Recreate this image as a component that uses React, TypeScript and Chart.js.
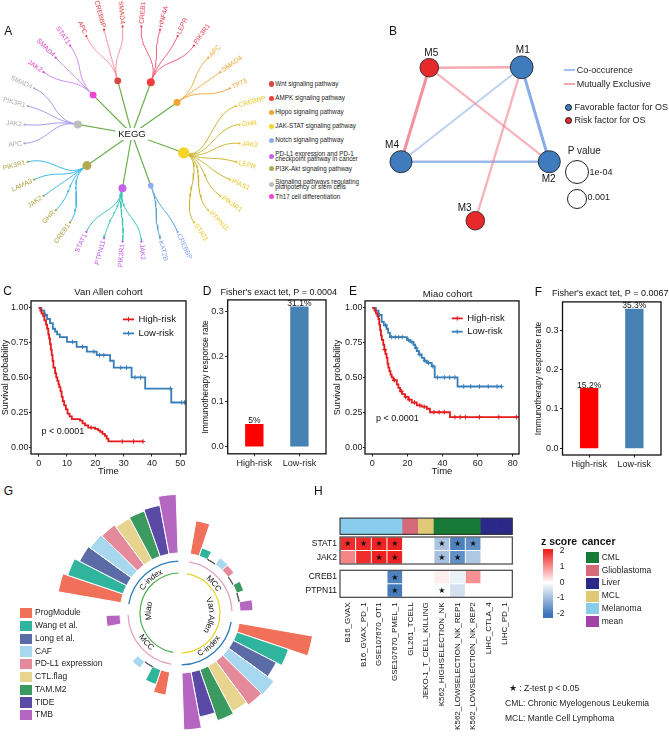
import React, { useEffect, useRef } from 'react';
import { Chart, registerables } from 'chart.js';

Chart.register(...registerables);

const FONT = 'Arial, "Liberation Sans", Helvetica, sans-serif';
Chart.defaults.font.family = FONT;
Chart.defaults.color = '#111';

/* ============================ DATA ============================ */

// ---- A: KEGG pathways and member genes
const TREE_ROOT = 'KEGG';
const PATHWAYS = [
  'Wnt signaling pathway',
  'AMPK signaling pathway',
  'Hippo signaling pathway',
  'JAK-STAT signaling pathway',
  'Notch signaling pathway',
  'PD-L1 expression and PD-1\ncheckpoint pathway in cancer',
  'PI3K-Akt signaling pathway',
  'Signaling pathways regulating\npluripotency of stem cells',
  'Th17 cell differentiation',
];
const WNT_GENES = ['APC', 'CREBBP', 'SMAD4'];
const AMPK_GENES = ['CREB1', 'HNF4A', 'LEPR', 'PIK3R1'];
const HIPPO_GENES = ['APC', 'SMAD4', 'TP73'];
const JAKSTAT_GENES = ['CREBBP', 'GHR', 'JAK2', 'LEPR', 'PIAS1', 'PIK3R1', 'PTPN11', 'STAT1'];
const NOTCH_GENES = ['CREBBP', 'KAT2B'];
const PDL1_GENES = ['JAK2', 'PIK3R1', 'PTPN11', 'STAT1'];
const PI3K_GENES = ['CREB1', 'GHR', 'JAK2', 'LAMA3', 'PIK3R1'];
const STEM_GENES = ['APC', 'JAK2', 'PIK3R1', 'SMAD4'];
const TH17_GENES = ['JAK2', 'SMAD4', 'STAT1'];
const PATHWAY_GENES = [WNT_GENES, AMPK_GENES, HIPPO_GENES, JAKSTAT_GENES, NOTCH_GENES, PDL1_GENES, PI3K_GENES, STEM_GENES, TH17_GENES];

// ---- B: module network
const MODULES = ['M1', 'M2', 'M3', 'M4', 'M5'];
const ROLES = ['Favorable factor for OS', 'Risk factor for OS'];
const MODULE_ROLE = [0, 0, 1, 0, 1];
const MODULE_P = [2e-4, 3e-4, 2.2e-3, 3e-4, 2.2e-3];
const EDGE_TYPES = ['Co-occurence', 'Mutually Exclusive'];
const EDGE_FROM = ['M5', 'M5', 'M5', 'M1', 'M1', 'M1', 'M4'];
const EDGE_TO = ['M1', 'M4', 'M2', 'M3', 'M4', 'M2', 'M2'];
const EDGE_TYPE = [1, 1, 1, 1, 0, 0, 0];
const EDGE_STRENGTH = [2.5, 3, 2.3, 2.3, 2, 3, 2.6];
const P_LEGEND = [1e-4, 0.001];
const P_LEGEND_LABELS = ['1e-04', '0.001'];
// network layout (layout units)
const NET_X = [141.7, 169.3, 95.3, 21, 49.3];
const NET_Y = [27.3, 121.7, 180.7, 121.7, 27.7];
const NET_LABEL_DX = [1.1, -0.6, -10.6, -9, 2];
const NET_LABEL_DY = [-17, 18, -12.9, -16.4, -14];

// ---- C / E: Kaplan-Meier curves [time, survival]
const KM_GROUPS = ['High-risk', 'Low-risk'];
const P_TEXT = 'p < 0.0001';
const VA_HIGH = [[0, 1], [0.6, 0.98], [1.0, 0.96], [1.6, 0.94], [2.0, 0.91], [2.6, 0.88], [3.0, 0.85], [3.4, 0.81], [3.7, 0.78], [4.0, 0.74], [4.3, 0.7], [4.6, 0.66], [4.9, 0.62], [5.2, 0.57], [5.8, 0.53], [6.2, 0.5], [6.6, 0.475], [7.0, 0.45], [7.3, 0.43], [7.7, 0.4], [8.1, 0.36], [8.5, 0.33], [9.0, 0.3], [9.6, 0.27], [10.2, 0.24], [10.9, 0.22], [11.7, 0.2], [14.6, 0.19], [15.5, 0.17], [16.4, 0.155], [17.5, 0.14], [19.9, 0.13], [21.0, 0.12], [21.7, 0.11], [22.5, 0.095], [23.4, 0.08], [24.0, 0.06], [24.6, 0.04], [37, 0.04]];
const VA_LOW = [[0, 1], [1, 0.98], [2, 0.95], [3, 0.92], [4, 0.89], [5, 0.85], [5.8, 0.83], [6.5, 0.81], [7.5, 0.79], [10, 0.755], [13.4, 0.72], [17, 0.685], [20.5, 0.66], [25.2, 0.62], [26.5, 0.57], [32.8, 0.5], [37.6, 0.42], [46.8, 0.32], [52, 0.32]];
const VA_HIGH_CENSOR = [18.5, 29.5, 33.5, 36.8];
const VA_LOW_CENSOR = [2.5, 12, 15.5, 19.5, 21.5, 23, 29, 31, 34, 36, 46.5, 50.5, 51.5];
const MIAO_HIGH = [[0, 1], [1.2, 0.98], [2, 0.96], [2.8, 0.94], [3.4, 0.92], [3.9, 0.88], [4.4, 0.84], [4.9, 0.8], [5.4, 0.77], [6.2, 0.735], [6.8, 0.7], [7.4, 0.67], [8.1, 0.64], [8.6, 0.6], [9.1, 0.57], [9.7, 0.545], [10.3, 0.52], [11, 0.5], [12, 0.48], [13.9, 0.45], [14.8, 0.425], [15.8, 0.4], [17, 0.38], [18.6, 0.36], [20.5, 0.34], [22.4, 0.32], [25.3, 0.3], [28, 0.29], [31, 0.275], [32.8, 0.25], [44.2, 0.215], [83.5, 0.215]];
const MIAO_LOW = [[0, 1], [2, 0.98], [3.5, 0.95], [5.3, 0.9], [6.5, 0.875], [8.1, 0.85], [9, 0.82], [10, 0.79], [19.7, 0.77], [21.5, 0.755], [23.4, 0.735], [24.4, 0.71], [25.3, 0.69], [26.5, 0.665], [28.1, 0.64], [29.5, 0.62], [31, 0.605], [33.8, 0.58], [35.5, 0.5], [48.5, 0.435], [74, 0.435]];
const MIAO_HIGH_CENSOR = [7, 12.5, 16.5, 19, 21, 24, 27, 29.5, 35, 38, 41, 47, 50, 53, 61, 72, 82];
const MIAO_LOW_CENSOR = [4, 7.5, 11, 13, 15, 17, 20.5, 22.5, 25, 27, 30, 32, 34.5, 37, 41, 44, 47, 52, 56, 61, 66, 71, 73.5];
const KM_YTICKS = [0, 0.25, 0.5, 0.75, 1];
const VA_XTICKS = [0, 10, 20, 30, 40, 50];
const MIAO_XTICKS = [0, 20, 40, 60, 80];

// ---- D / F: immunotherapy response
const RESPONSE_GROUPS = ['High-risk', 'Low-risk'];
const VA_RESPONSE = [0.05, 0.311];
const MIAO_RESPONSE = [0.152, 0.353];
const FISHER_P = ['0.0004', '0.0067'];
const RESP_YTICKS = [0, 0.1, 0.2, 0.3];

// ---- G: circular bar chart
const METHODS = ['ProgModule', 'Wang et al.', 'Long et al.', 'CAF', 'PD-L1 expression', 'CTL.flag', 'TAM.M2', 'TIDE', 'TMB'];
const MIAO_CINDEX = [0.635, 0.585, 0.53, 0.51, 0.497, 0.472, 0.48, 0.495, 0.586];
const VANALLEN_MCC = [0.336, 0.087, 0.004, 0.082, 0.073, 0.004, 0.075, 0.004, 0.13];
const VANALLEN_CINDEX = [0.745, 0.544, 0.483, 0.561, 0.546, 0.515, 0.54, 0.457, 0.57];
const MIAO_MCC = [0.233, 0.154, 0.004, 0.08, 0, 0, 0, 0, 0.14];
const G_METRICS = ['C-index', 'MCC', 'C-index', 'MCC'];
const G_COHORTS = ['Miao', 'Van Allen', 'Van Allen', 'Miao'];

// ---- H: heatmap
const H_COLS = ['B16_GVAX', 'B16_GVAX_PD_1', 'GSE107670_OT1', 'GSE107670_PMEL_1', 'GL261_TCELL', 'JEKO-1_T_CELL_KILLING', 'K562_HIGHSELECTION_NK', 'K562_LOWSELECTION_NK_REP1', 'K562_LOWSELECTION_NK_REP2', 'LIHC_CTLA_4', 'LIHC_PD_1'];
const H_COL_CANCER = ['Melanoma', 'Melanoma', 'Melanoma', 'Melanoma', 'Glioblastoma', 'MCL', 'CML', 'CML', 'CML', 'Liver', 'Liver'];
const H_GENES = ['STAT1', 'JAK2', 'CREB1', 'PTPN11'];
const Z_STAT1 = [1.9, 1.95, 2.0, 2.0, null, null, -0.85, -1.8, -1.6, null, null];
const Z_JAK2 = [1.1, 1.9, 2.0, 2.0, null, null, -0.9, -1.6, -0.8, null, null];
const Z_CREB1 = [null, null, null, -1.8, null, null, 0.15, -0.2, 1.0, null, null];
const Z_PTPN11 = [null, null, null, -1.9, null, null, -0.05, -0.45, null, null, null];
const SIG_STAT1 = [1, 1, 1, 1, 0, 0, 1, 1, 1, 0, 0];
const SIG_JAK2 = [0, 0, 1, 1, 0, 0, 1, 1, 0, 0, 0];
const SIG_CREB1 = [0, 0, 0, 1, 0, 0, 0, 0, 0, 0, 0];
const SIG_PTPN11 = [0, 0, 0, 1, 0, 0, 1, 0, 0, 0, 0];
const MEAN_LABEL = 'mean';
const MEAN_Z = [1.75, 0.6, -0.45, -0.75];
const CANCER_TYPES = ['CML', 'Glioblastoma', 'Liver', 'MCL', 'Melanoma', 'mean'];
const Z_TICKS = [2, 1, 0, -1, -2];
const FOOTNOTES = ['★ : Z-test p < 0.05', 'CML: Chronic Myelogenous Leukemia', 'MCL: Mantle Cell Lymphoma'];

/* ============================ STYLE ============================ */
const A_NODE_COLORS = ['#d64848', '#f03c3c', '#f0a432', '#f7d428', '#8eacf0', '#c364ee', '#b0aa52', '#bdbdbd', '#ef46d3'];
const A_EDGE_COLORS = ['#f3959e', '#f0607a', '#f2ac48', '#cbb437', '#55a4d6', '#3ec4b6', '#3ab7e6', '#a897ef', '#c98def'];
const A_TEXT_COLORS = ['#e03c3c', '#ee3b57', '#f0a232', '#ebc41e', '#7e9eee', '#c455e6', '#aaa340', '#ababab', '#e33ccb'];
const ROLE_COLORS = ['#3f7bbd', '#e8292b'];
const KM_COLORS = ['#e41a1c', '#377eb8'];
const BAR_COLORS = ['#ff0000', '#4682b4'];
const METHOD_COLORS = ['#f0705a', '#2fb59e', '#5b6ba6', '#a7d8ef', '#e48a9b', '#e7d48f', '#3b9a5f', '#5a49a5', '#b566c0'];
const METRIC_COLORS: any = { 'C-index': '#2b7bba', MCC: '#e5a0c0' };
const COHORT_COLORS: any = { Miao: '#4cae4c', 'Van Allen': '#e6d62a' };
const CANCER_COLORS = ['#177a36', '#d56b79', '#2a2989', '#dfc977', '#89ccec', '#a144a6'];

const zColor = (z: number | null) => {
  if (z === null || z === undefined) return '#ffffff';
  const t = Math.max(-2, Math.min(2, z)) / 2;
  const c = t >= 0 ? [238, 34, 34] : [58, 116, 184];
  const a = Math.abs(t);
  return `rgb(${[255, 255, 255].map((v, i) => Math.round(v + (c[i] - v) * a)).join(',')})`;
};

/* ============================ HELPERS ============================ */
type Box = { l: number; t: number; w: number; h: number };

function frame(area: any, yw: number, xh: number, m: any) {
  const l = Math.floor(area.l - yw - m.l);
  const t = Math.floor(area.t - m.t);
  const w = Math.ceil(area.r + m.r - l);
  const h = Math.ceil(area.b + xh + m.b - t);
  return { box: { l, t, w, h }, pad: { left: area.l - yw - l, top: area.t - t, right: l + w - area.r, bottom: t + h - area.b - xh } };
}

function baseOptions(pad: any) {
  return {
    responsive: false,
    animation: false,
    events: [],
    layout: { autoPadding: false, padding: pad },
    plugins: { legend: { display: false }, tooltip: { enabled: false } },
  };
}

function ChartBox({ box, make }: { box: Box; make: () => any }) {
  const ref = useRef<HTMLCanvasElement>(null);
  useEffect(() => {
    if (!ref.current) return;
    const chart = new Chart(ref.current, make());
    return () => chart.destroy();
  }, []);
  return <canvas ref={ref} width={box.w} height={box.h} style={{ position: 'absolute', left: box.l, top: box.t, width: box.w, height: box.h }} />;
}

function Txt(p: { x: number; y: number; s: number; t: any; a?: string; c?: string; b?: boolean; lh?: number }) {
  const tx = p.a === 'middle' ? '-50%' : p.a === 'end' ? '-100%' : '0';
  return (
    <div style={{ position: 'absolute', left: p.x, top: p.y, transform: `translate(${tx}, -50%)`, fontSize: p.s, lineHeight: p.lh ? `${p.lh}px` : 1.15, whiteSpace: 'pre', color: p.c || '#111', fontWeight: p.b ? 'bold' : 'normal', fontFamily: FONT }}>
      {p.t}
    </div>
  );
}

const boxPlugin = {
  id: 'panelBox',
  afterDatasetsDraw(chart: any) {
    const { ctx, chartArea: a } = chart;
    ctx.save();
    ctx.strokeStyle = '#111';
    ctx.lineWidth = 1.3;
    ctx.strokeRect(a.left, a.top, a.right - a.left, a.bottom - a.top);
    ctx.restore();
  },
};

/* ============================ A: KEGG tree ============================ */
const A_BOX: Box = { l: 0, t: 0, w: 268, h: 270 };
const LEAF_START = 115, LEAF_STEP = 10, R_PATH = 55, R_LEAF = 108;
const polar = (r: number, deg: number) => ({ x: r * Math.cos((deg * Math.PI) / 180), y: r * Math.sin((deg * Math.PI) / 180) });

function treeConfig() {
  let k = 0;
  const nodes = PATHWAYS.map((name, i) => {
    const leaves = PATHWAY_GENES[i].map((g) => ({ g, a: LEAF_START - LEAF_STEP * k++ }));
    const a = leaves.reduce((s, l) => s + l.a, 0) / leaves.length;
    return { name, i, a, leaves };
  });
  const datasets: any[] = [];
  datasets.push({ data: nodes.map((n) => polar(R_PATH, n.a)), pointRadius: nodes.map((n) => 2 * Math.sqrt(n.leaves.length)), pointBackgroundColor: nodes.map((n) => A_NODE_COLORS[n.i]), pointBorderWidth: 0, order: 0 });
  const leafPts: any[] = [];
  const leafCols: string[] = [];
  nodes.forEach((n) => n.leaves.forEach((l) => { leafPts.push(polar(R_LEAF, l.a)); leafCols.push(A_TEXT_COLORS[n.i]); }));
  datasets.push({ data: leafPts, pointRadius: 1.1, pointBackgroundColor: leafCols, pointBorderWidth: 0, order: 1 });
  nodes.forEach((n) => datasets.push({ data: [{ x: 0, y: 0 }, polar(R_PATH, n.a)], showLine: true, borderColor: '#6ab04c', borderWidth: 1.2, pointRadius: 0, order: 3 }));
  const rm = (R_PATH + R_LEAF) / 2;
  nodes.forEach((n) => n.leaves.forEach((l) => {
    const P = [polar(R_PATH, n.a), polar(rm, n.a), polar(rm, l.a), polar(R_LEAF, l.a)];
    const pts: any[] = [];
    for (let s = 0; s <= 24; s++) {
      const t = s / 24, u = 1 - t;
      const b = [u * u * u, 3 * u * u * t, 3 * u * t * t, t * t * t];
      pts.push({ x: b.reduce((acc, w, j) => acc + w * P[j].x, 0), y: b.reduce((acc, w, j) => acc + w * P[j].y, 0) });
    }
    datasets.push({ data: pts, showLine: true, borderColor: A_EDGE_COLORS[n.i], borderWidth: 1, pointRadius: 0, order: 2 });
  }));
  const labels = {
    id: 'treeLabels',
    afterDatasetsDraw(chart: any) {
      const { ctx, scales: { x, y } } = chart;
      ctx.save();
      ctx.font = `6.7px ${FONT}`;
      ctx.textBaseline = 'middle';
      nodes.forEach((n) => n.leaves.forEach((l) => {
        const p = polar(R_LEAF + 2.5, l.a);
        const a = ((l.a % 360) + 360) % 360;
        ctx.save();
        ctx.translate(x.getPixelForValue(p.x), y.getPixelForValue(p.y));
        if (a < 90 || a > 270) { ctx.rotate((-a * Math.PI) / 180); ctx.textAlign = 'left'; }
        else { ctx.rotate(((180 - a) * Math.PI) / 180); ctx.textAlign = 'right'; }
        ctx.fillStyle = A_TEXT_COLORS[n.i];
        ctx.fillText(l.g, 0, 0);
        ctx.restore();
      }));
      const cx = x.getPixelForValue(0), cy = y.getPixelForValue(0);
      ctx.font = `9.5px ${FONT}`;
      const w = ctx.measureText(TREE_ROOT).width;
      ctx.fillStyle = '#fff';
      ctx.fillRect(cx - w / 2 - 3, cy - 6, w + 6, 12);
      ctx.fillStyle = '#111';
      ctx.textAlign = 'center';
      ctx.fillText(TREE_ROOT, cx, cy);
      ctx.restore();
    },
  };
  return {
    type: 'scatter',
    data: { datasets },
    options: { ...baseOptions(0), scales: { x: { type: 'linear', min: -132, max: 136, display: false }, y: { type: 'linear', min: -136, max: 134, display: false } } },
    plugins: [labels],
  };
}

/* ============================ B: network ============================ */
const B_BOX: Box = { l: 380, t: 40, w: 185, h: 200 };
const pRadius = (p: number) => 10 + 2 * (-Math.log10(p) - 3);

function netConfig() {
  const idx = (m: string) => MODULES.indexOf(m);
  const datasets: any[] = [];
  datasets.push({ data: MODULES.map((_, i) => ({ x: NET_X[i], y: NET_Y[i] })), pointRadius: MODULE_P.map(pRadius), pointBackgroundColor: MODULE_ROLE.map((r) => ROLE_COLORS[r]), pointBorderColor: '#1a1a1a', pointBorderWidth: 0.8, order: 0 });
  EDGE_FROM.forEach((f, e) => {
    const a = idx(f), b = idx(EDGE_TO[e]);
    const alpha = 0.45 + (EDGE_STRENGTH[e] - 2) * 0.35;
    datasets.push({ data: [{ x: NET_X[a], y: NET_Y[a] }, { x: NET_X[b], y: NET_Y[b] }], showLine: true, pointRadius: 0, borderWidth: EDGE_STRENGTH[e], borderColor: EDGE_TYPE[e] === 0 ? `rgba(108,150,226,${alpha})` : `rgba(240,118,132,${alpha})`, order: 1 });
  });
  const labels = {
    id: 'netLabels',
    afterDatasetsDraw(chart: any) {
      const { ctx, scales: { x, y } } = chart;
      ctx.save();
      ctx.font = `10px ${FONT}`;
      ctx.textAlign = 'center';
      ctx.textBaseline = 'middle';
      ctx.fillStyle = '#111';
      MODULES.forEach((m, i) => ctx.fillText(m, x.getPixelForValue(NET_X[i]) + NET_LABEL_DX[i], y.getPixelForValue(NET_Y[i]) + NET_LABEL_DY[i]));
      ctx.restore();
    },
  };
  return {
    type: 'scatter',
    data: { datasets },
    options: { ...baseOptions(0), scales: { x: { type: 'linear', min: 0, max: 185, display: false }, y: { type: 'linear', min: 0, max: 200, reverse: true, display: false } } },
    plugins: [labels],
  };
}

/* ============================ C / E: KM ============================ */
const survAt = (curve: number[][], t: number) => { let v = curve[0][1]; for (const [tt, s] of curve) if (tt <= t) v = s; return v; };

const tickGrid = { display: true, offset: false, drawOnChartArea: false, drawTicks: true, tickLength: 2.5, tickColor: '#222', tickWidth: 1 };

function kmConfig(o: any) {
  const datasets: any[] = [];
  [o.high, o.low].forEach((s: number[][], k: number) => {
    datasets.push({ type: 'line', data: s.map(([t, v]) => ({ x: t, y: v })), stepped: true, borderColor: KM_COLORS[k], borderWidth: 1.8, pointRadius: 0, fill: false, order: 1 });
    const cens = k === 0 ? o.highC : o.lowC;
    datasets.push({ type: 'scatter', data: cens.map((t: number) => ({ x: t, y: survAt(s, t) })), pointStyle: 'cross', pointRadius: 2.3, pointBorderColor: KM_COLORS[k], pointBorderWidth: 1, order: 1 });
  });
  const extra = {
    id: 'kmExtra',
    afterDatasetsDraw(chart: any) {
      const { ctx, chartArea: a, scales: { x, y } } = chart;
      ctx.save();
      ctx.font = `9.5px ${FONT}`;
      ctx.textBaseline = 'middle';
      ctx.textAlign = 'left';
      KM_GROUPS.forEach((g, k) => {
        const x0 = a.left + o.leg[0], y0 = a.top + o.leg[1] + k * o.leg[2];
        ctx.strokeStyle = KM_COLORS[k];
        ctx.lineWidth = 1.8;
        ctx.beginPath(); ctx.moveTo(x0, y0); ctx.lineTo(x0 + 11, y0); ctx.stroke();
        ctx.lineWidth = 1;
        ctx.beginPath(); ctx.moveTo(x0 + 5.5, y0 - 2.3); ctx.lineTo(x0 + 5.5, y0 + 2.3); ctx.stroke();
        ctx.fillStyle = '#111';
        ctx.fillText(g, x0 + 15.5, y0);
      });
      ctx.font = `9px ${FONT}`;
      ctx.fillText(P_TEXT, x.getPixelForValue(o.pval[0]), y.getPixelForValue(o.pval[1]));
      ctx.restore();
    },
  };
  return {
    type: 'line',
    data: { datasets },
    options: {
      ...baseOptions(o.pad),
      scales: {
        x: {
          type: 'linear', min: o.xmin, max: o.xmax, offset: false,
          afterBuildTicks: (ax: any) => { ax.ticks = o.xticks.map((v: number) => ({ value: v })); },
          afterFit: (ax: any) => { ax.height = o.xh; },
          grid: tickGrid, border: { display: false },
          ticks: { font: { size: 9 }, color: '#222', padding: 1.5, maxRotation: 0, autoSkip: false },
          title: { display: true, text: 'Time', font: { size: 9.5 }, color: '#111', padding: 0 },
        },
        y: {
          type: 'linear', min: -0.05, max: 1.05,
          afterBuildTicks: (ax: any) => { ax.ticks = KM_YTICKS.map((v) => ({ value: v })); },
          afterFit: (ax: any) => { ax.width = o.yw; },
          grid: { ...tickGrid, tickLength: 2 }, border: { display: false },
          ticks: { font: { size: 9 }, color: '#222', padding: 0.5, autoSkip: false, callback: (v: any) => Number(v).toFixed(2) },
          title: { display: true, text: 'Survival probability', font: { size: 9 }, color: '#111', padding: 0 },
        },
      },
    },
    plugins: [boxPlugin, extra],
  };
}

const C_GEO = frame({ l: 31, t: 299.2, r: 186, b: 454 }, 31, 23.4, { l: 0, t: 4, r: 6, b: 1 });
const E_GEO = frame({ l: 365, t: 299.2, r: 519, b: 454 }, 32.4, 23.4, { l: 0, t: 4, r: 6, b: 1 });

/* ============================ D / F: bars ============================ */
function barConfig(o: any) {
  const labelPlugin = {
    id: 'barLabels',
    afterDatasetsDraw(chart: any) {
      const { ctx } = chart;
      ctx.save();
      ctx.font = `8.5px ${FONT}`;
      ctx.textAlign = 'center';
      ctx.textBaseline = 'bottom';
      ctx.fillStyle = '#111';
      chart.getDatasetMeta(0).data.forEach((el: any, i: number) => ctx.fillText(`${+(o.values[i] * 100).toFixed(1)}%`, el.x, el.y + 1));
      ctx.restore();
    },
  };
  return {
    type: 'bar',
    data: { datasets: [{ data: o.values.map((v: number, i: number) => ({ x: i + 1, y: v })), backgroundColor: BAR_COLORS, barThickness: 17.7, borderWidth: 0 }] },
    options: {
      ...baseOptions(o.pad),
      scales: {
        x: {
          type: 'linear', min: 1 - 0.59, max: RESPONSE_GROUPS.length + 0.59, offset: false,
          afterBuildTicks: (ax: any) => { ax.ticks = RESPONSE_GROUPS.map((_, i) => ({ value: i + 1 })); },
          afterFit: (ax: any) => { ax.height = o.xh; },
          grid: tickGrid, border: { display: false },
          ticks: { font: { size: 9 }, color: '#222', padding: 1.5, maxRotation: 0, autoSkip: false, callback: (v: any) => RESPONSE_GROUPS[Math.round(v) - 1] },
        },
        y: {
          type: 'linear', min: o.ymin, max: o.ymax,
          afterBuildTicks: (ax: any) => { ax.ticks = RESP_YTICKS.map((v) => ({ value: v })); },
          afterFit: (ax: any) => { ax.width = o.yw; },
          grid: tickGrid, border: { display: false },
          ticks: { font: { size: 9 }, color: '#222', padding: 1.5, autoSkip: false, callback: (v: any) => Number(v).toFixed(1) },
          title: { display: true, text: 'Immunotherapy response rate', font: { size: 8.5 }, color: '#111', padding: 0 },
        },
      },
    },
    plugins: [boxPlugin, labelPlugin],
  };
}

const D_GEO = frame({ l: 227.7, t: 297.8, r: 326, b: 453.8 }, 27.1, 22, { l: 0, t: 4, r: 4, b: 1 });
const F_GEO = frame({ l: 562.5, t: 299, r: 661, b: 455 }, 28.6, 22, { l: 0, t: 4, r: 4, b: 1 });

/* ============================ G: circular bars ============================ */
const G_BOX: Box = { l: 45, t: 478, w: 270, h: 270 };
const G_BAR_ANGLE = 8.7, G_GAP_ANGLE = 11.7, G_FIRST_CENTER = 165.8;
const G_START = 90 - G_FIRST_CENTER - G_BAR_ANGLE / 2;
const G_MIN = -0.6, G_MAX = 0.75;

function arcText(ctx: any, text: string, cx: number, cy: number, r: number, midDeg: number) {
  const mid = (midDeg * Math.PI) / 180;
  const outward = Math.sin(mid) < 0.3;
  const dir = outward ? 1 : -1;
  const total = ctx.measureText(text).width;
  let ang = mid - (dir * total) / (2 * r);
  for (const ch of text) {
    const w = ctx.measureText(ch).width;
    const a = ang + (dir * w) / (2 * r);
    ctx.save();
    ctx.translate(cx + r * Math.cos(a), cy + r * Math.sin(a));
    ctx.rotate(outward ? a + Math.PI / 2 : a - Math.PI / 2);
    ctx.fillText(ch, 0, 0);
    ctx.restore();
    ang += (dir * w) / r;
  }
}

function polarConfig() {
  const groups = [MIAO_CINDEX, VANALLEN_MCC, VANALLEN_CINDEX, MIAO_MCC];
  const vals: number[] = [], cols: string[] = [], borders: string[] = [], angs: number[] = [];
  groups.forEach((g) => {
    g.forEach((v, i) => { vals.push(v); cols.push(METHOD_COLORS[i]); borders.push(v > 0 && v < 0.01 ? '#555' : '#ffffff'); angs.push(G_BAR_ANGLE); });
    vals.push(G_MIN); cols.push('rgba(0,0,0,0)'); borders.push('rgba(0,0,0,0)'); angs.push(G_GAP_ANGLE);
  });
  const groupSpan = 9 * G_BAR_ANGLE + G_GAP_ANGLE;
  const gs = (g: number) => G_START - 90 + g * groupSpan;
  const ge = (g: number) => gs(g) + 9 * G_BAR_ANGLE;
  const hole = {
    id: 'hole',
    beforeDatasetsDraw(chart: any) {
      const inner = chart.scales.r.getDistanceFromCenterForValue(0);
      chart.getDatasetMeta(0).data.forEach((arc: any) => { arc.innerRadius = Math.min(inner, arc.outerRadius); });
    },
  };
  const rings = {
    id: 'rings',
    afterDatasetsDraw(chart: any) {
      const { ctx } = chart;
      const sc = chart.scales.r;
      const cx = sc.xCenter, cy = sc.yCenter;
      const rad = (d: number) => (d * Math.PI) / 180;
      ctx.save();
      ctx.textAlign = 'center';
      ctx.textBaseline = 'middle';
      ctx.fillStyle = '#111';
      G_METRICS.forEach((m, g) => {
        ctx.strokeStyle = METRIC_COLORS[m];
        ctx.lineWidth = 1.3;
        ctx.beginPath(); ctx.arc(cx, cy, 52, rad(gs(g)), rad(ge(g))); ctx.stroke();
        ctx.font = `8px ${FONT}`;
        arcText(ctx, m, cx, cy, 45, (gs(g) + ge(g)) / 2);
      });
      const spans: any[] = [];
      G_COHORTS.forEach((c, g) => {
        const last = spans[spans.length - 1];
        if (last && last.c === c) last.e = ge(g); else spans.push({ c, s: gs(g), e: ge(g) });
      });
      if (spans.length > 1 && spans[0].c === spans[spans.length - 1].c) { const f = spans.shift(); spans[spans.length - 1].e = f.e + 360; }
      spans.forEach((sp) => {
        ctx.strokeStyle = COHORT_COLORS[sp.c];
        ctx.lineWidth = 1.2;
        ctx.beginPath(); ctx.arc(cx, cy, 40, rad(sp.s), rad(sp.e)); ctx.stroke();
        ctx.font = `8.5px ${FONT}`;
        arcText(ctx, sp.c, cx, cy, 31.5, (sp.s + sp.e) / 2);
      });
      ctx.restore();
    },
  };
  return {
    type: 'polarArea',
    data: { labels: vals.map((_, i) => String(i)), datasets: [{ data: vals, backgroundColor: cols, borderColor: borders, borderWidth: 1, angle: (c: any) => angs[c.dataIndex] }] },
    options: { ...baseOptions(0), scales: { r: { min: G_MIN, max: G_MAX, startAngle: G_START, display: false } } },
    plugins: [hole, rings],
  };
}

/* ============================ H: heatmap ============================ */
const H_ANNO_H = 16.6, H_GAP1 = 2.7, H_ROW_H = 13.8, H_GAP2 = 6.4;
const rowTop = (g: number) => H_ANNO_H + H_GAP1 + g * H_ROW_H + (g >= 2 ? H_GAP2 : 0);
const H_YMAX = rowTop(3) + H_ROW_H;
const H_BLOCKS = [[0, H_ANNO_H], [rowTop(0), rowTop(1) + H_ROW_H], [rowTop(2), rowTop(3) + H_ROW_H]];
const H_MAIN_GEO = frame({ l: 340, t: 516.7, r: 512.3, b: 597.3 }, 50, 140, { l: 0, t: 6, r: 12, b: 0 });
const H_MEAN_GEO = frame({ l: 516.7, t: 516.7, r: 531.7, b: 597.3 }, 0, 140, { l: 4, t: 6, r: 12, b: 0 });

function heatConfig(cols: string[], annoColors: string[], zRows: any[][], sigRows: number[][], showY: boolean, pad: any) {
  const cell = { grouped: false, barPercentage: 1, categoryPercentage: 1, borderSkipped: false };
  const datasets: any[] = [{ ...cell, data: cols.map(() => [0, H_ANNO_H]), backgroundColor: annoColors, borderWidth: 0 }];
  zRows.forEach((zs, g) => datasets.push({ ...cell, data: cols.map(() => [rowTop(g), rowTop(g) + H_ROW_H]), backgroundColor: zs.map(zColor), borderWidth: 0.8, borderColor: '#ffffff' }));
  const deco = {
    id: 'heatDeco',
    afterDatasetsDraw(chart: any) {
      const { ctx, chartArea: a, scales: { x, y } } = chart;
      ctx.save();
      ctx.strokeStyle = '#333';
      ctx.lineWidth = 1.1;
      H_BLOCKS.forEach(([t, b]) => { const y0 = y.getPixelForValue(t), y1 = y.getPixelForValue(b); ctx.strokeRect(a.left, y0, a.right - a.left, y1 - y0); });
      ctx.fillStyle = '#111';
      ctx.font = '8px "DejaVu Sans", sans-serif';
      ctx.textAlign = 'center';
      ctx.textBaseline = 'middle';
      sigRows.forEach((row, g) => row.forEach((s, c) => { if (s) ctx.fillText('★', x.getPixelForValue(c), y.getPixelForValue(rowTop(g) + H_ROW_H / 2) + 0.5); }));
      ctx.restore();
    },
  };
  return {
    type: 'bar',
    data: { labels: cols, datasets },
    options: {
      ...baseOptions(pad),
      scales: {
        x: {
          type: 'category', offset: true,
          afterFit: (ax: any) => { ax.height = 140; },
          grid: { display: false, drawTicks: true, tickLength: 5 }, border: { display: false },
          ticks: { minRotation: 90, maxRotation: 90, autoSkip: false, padding: 0, font: { size: 8 }, color: '#111' },
        },
        y: {
          type: 'linear', min: 0, max: H_YMAX, reverse: true, display: showY,
          afterBuildTicks: (ax: any) => { ax.ticks = H_GENES.map((_, i) => ({ value: rowTop(i) + H_ROW_H / 2 })); },
          afterFit: (ax: any) => { ax.width = 50; },
          grid: { display: false, drawTicks: false }, border: { display: false },
          ticks: { autoSkip: false, padding: 3, font: { size: 8.5 }, color: '#111', callback: (_v: any, i: number) => H_GENES[i] },
        },
      },
    },
    plugins: [deco],
  };
}

/* ============================ APP ============================ */
export default function App() {
  const aLegendY = PATHWAYS.map((p, i) => 84 + 14.1 * i + (p.includes('\n') ? 2 : 0));
  const zy = (z: number) => 582.6 - 15.8 * z;
  return (
    <div style={{ position: 'absolute', left: 0, top: 0, width: 669, height: 746, background: '#fff', overflow: 'hidden', fontFamily: FONT }}>
      <ChartBox box={A_BOX} make={treeConfig} />
      <ChartBox box={B_BOX} make={netConfig} />
      <ChartBox box={C_GEO.box} make={() => kmConfig({ high: VA_HIGH, low: VA_LOW, highC: VA_HIGH_CENSOR, lowC: VA_LOW_CENSOR, xmin: -2.7, xmax: 52, xticks: VA_XTICKS, yw: 31, xh: 23.4, pad: C_GEO.pad, pval: [1, 0.11], leg: [92, 18.5, 14] })} />
      <ChartBox box={E_GEO.box} make={() => kmConfig({ high: MIAO_HIGH, low: MIAO_LOW, highC: MIAO_HIGH_CENSOR, lowC: MIAO_LOW_CENSOR, xmin: -4.2, xmax: 83.5, xticks: MIAO_XTICKS, yw: 32.4, xh: 23.4, pad: E_GEO.pad, pval: [2.1, 0.205], leg: [86.7, 17.5, 13.3] })} />
      <ChartBox box={D_GEO.box} make={() => barConfig({ values: VA_RESPONSE, ymin: -0.0156, ymax: 0.3266, yw: 27.1, xh: 22, pad: D_GEO.pad })} />
      <ChartBox box={F_GEO.box} make={() => barConfig({ values: MIAO_RESPONSE, ymin: -0.0167, ymax: 0.3714, yw: 28.6, xh: 22, pad: F_GEO.pad })} />
      <ChartBox box={G_BOX} make={polarConfig} />
      <ChartBox box={H_MAIN_GEO.box} make={() => heatConfig(H_COLS, H_COL_CANCER.map((c) => CANCER_COLORS[CANCER_TYPES.indexOf(c)]), [Z_STAT1, Z_JAK2, Z_CREB1, Z_PTPN11], [SIG_STAT1, SIG_JAK2, SIG_CREB1, SIG_PTPN11], true, H_MAIN_GEO.pad)} />
      <ChartBox box={H_MEAN_GEO.box} make={() => heatConfig([MEAN_LABEL], [CANCER_COLORS[CANCER_TYPES.indexOf('mean')]], MEAN_Z.map((z) => [z]), [], false, H_MEAN_GEO.pad)} />

      {/* panel letters */}
      {[['A', 8.3, 32.3], ['B', 393, 32], ['C', 7.5, 292], ['D', 207, 292], ['E', 353, 292], ['F', 538.3, 293], ['G', 8.3, 492.3], ['H', 318.3, 492.3]].map(([t, x, y]: any) => (
        <Txt key={t} x={x} y={y} s={12} t={t} a="middle" />
      ))}

      {/* A legend */}
      {PATHWAYS.map((p, i) => (
        <React.Fragment key={p}>
          <div style={{ position: 'absolute', left: 271.7 - 2.6, top: aLegendY[i] - 2.6, width: 5.2, height: 5.2, borderRadius: '50%', background: A_NODE_COLORS[i] }} />
          <Txt x={275.3} y={aLegendY[i]} s={6.3} lh={5.6} t={p} c="#222" />
        </React.Fragment>
      ))}

      {/* B legend */}
      {EDGE_TYPES.map((e, i) => (
        <React.Fragment key={e}>
          <div style={{ position: 'absolute', left: 564, top: 69.3 + 13.7 * i, width: 11, height: 1.6, background: i === 0 ? '#a8bff0' : '#f3a5ad' }} />
          <Txt x={576.7} y={70 + 13.7 * i} s={9} t={e} c="#222" />
        </React.Fragment>
      ))}
      {ROLES.map((r, i) => (
        <React.Fragment key={r}>
          <div style={{ position: 'absolute', left: 568.6 - 3.7, top: 107.3 + 12.9 * i - 3.7, width: 7.4, height: 7.4, boxSizing: 'border-box', borderRadius: '50%', background: ROLE_COLORS[i], border: '0.8px solid #1a1a1a' }} />
          <Txt x={574.5} y={107.3 + 12.9 * i} s={9} t={r} c="#222" />
        </React.Fragment>
      ))}
      <Txt x={567.7} y={151} s={10} t="P value" c="#222" />
      {P_LEGEND.map((p, i) => {
        const r = pRadius(p);
        const cy = [171.7, 199][i];
        return (
          <React.Fragment key={p}>
            <div style={{ position: 'absolute', left: 577 - r, top: cy - r, width: 2 * r, height: 2 * r, boxSizing: 'border-box', borderRadius: '50%', border: '1px solid #222', background: '#fff' }} />
            <Txt x={577 + r + 0.5} y={cy + [0.5, -2.3][i]} s={9} t={P_LEGEND_LABELS[i]} c="#222" />
          </React.Fragment>
        );
      })}

      {/* C-F titles */}
      <Txt x={108.5} y={292.3} s={9.5} t="Van Allen cohort" a="middle" />
      <Txt x={447.7} y={294} s={9.5} t="Miao cohort" a="middle" />
      <Txt x={278.8} y={292.3} s={9} t={`Fisher's exact tet, P = ${FISHER_P[0]}`} a="middle" />
      <Txt x={610.3} y={293.3} s={9} t={`Fisher's exact tet, P = ${FISHER_P[1]}`} a="middle" />

      {/* G legend */}
      {METHODS.map((m, i) => (
        <React.Fragment key={m}>
          <div style={{ position: 'absolute', left: 20, top: 613.3 + 12.75 * i - 5.2, width: 11.7, height: 10.4, background: METHOD_COLORS[i] }} />
          <Txt x={35} y={613.3 + 12.75 * i} s={8.5} t={m} c="#222" />
        </React.Fragment>
      ))}

      {/* H legends */}
      <Txt x={541} y={541.3} s={10.5} b t="z score" />
      <div style={{ position: 'absolute', left: 542.7, top: 549, width: 10.7, height: 68.7, background: `linear-gradient(to bottom, ${zColor(2)} 3%, #ffffff 49%, ${zColor(-2)} 95%)` }} />
      {Z_TICKS.map((z) => (
        <Txt key={z} x={564.5} y={zy(z)} s={8.5} t={String(z)} a="end" c="#222" />
      ))}
      <Txt x={581.7} y={541.3} s={10.5} b t="cancer" />
      {CANCER_TYPES.map((c, i) => (
        <React.Fragment key={c}>
          <div style={{ position: 'absolute', left: 586, top: 557.7 + 12.8 * i - 5.6, width: 13.3, height: 11.2, background: CANCER_COLORS[i] }} />
          <Txt x={601.7} y={557.7 + 12.8 * i} s={8.5} t={c} c="#222" />
        </React.Fragment>
      ))}
      {FOOTNOTES.map((f, i) => (
        <Txt key={f} x={i === 0 ? 509 : 505} y={689.3 + 15 * i} s={8.5} t={f} c="#222" />
      ))}
    </div>
  );
}
